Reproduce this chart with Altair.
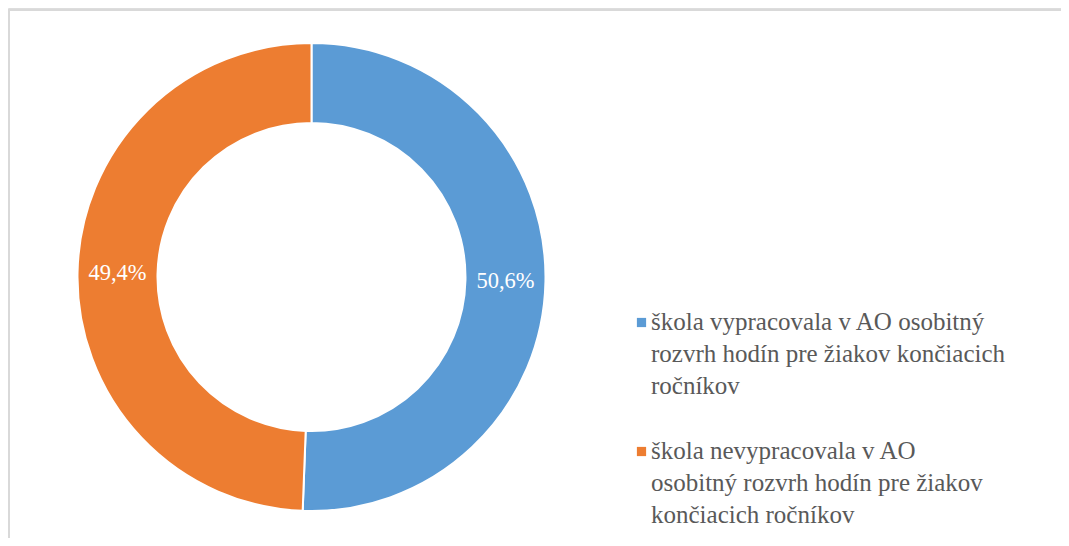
import altair as alt
import pandas as pd
import json

categories = [
    "škola vypracovala v AO osobitný rozvrh hodín pre žiakov končiacich ročníkov",
    "škola nevypracovala v AO osobitný rozvrh hodín pre žiakov končiacich ročníkov",
]
legend_lines = [
    ["škola vypracovala v AO osobitný", "rozvrh hodín pre žiakov končiacich", "ročníkov"],
    ["škola nevypracovala v AO", "osobitný rozvrh hodín pre žiakov", "končiacich ročníkov"],
]
values = [50.6, 49.4]
labels = ["50,6%", "49,4%"]
colors = ["#5B9BD5", "#ED7D31"]

df = pd.DataFrame({"cat": categories, "value": values, "label": labels, "order": [0, 1]})

label_expr = " : ".join(
    f"datum.value == {json.dumps(c, ensure_ascii=False)} ? {json.dumps(l, ensure_ascii=False)}"
    for c, l in zip(categories[:-1], legend_lines[:-1])
) + " : " + json.dumps(legend_lines[-1], ensure_ascii=False)

FONT = "Liberation Serif, Times New Roman, DejaVu Serif, serif"
CX, CY = 303.5, 269

base = alt.Chart(df).encode(
    theta=alt.Theta("value:Q", stack=True),
    order=alt.Order("order:Q"),
    x=alt.value(CX),
    y=alt.value(CY),
)

arcs = base.mark_arc(stroke="white", strokeWidth=2).encode(
    color=alt.Color(
        "cat:N",
        scale=alt.Scale(domain=categories, range=colors),
        legend=alt.Legend(
            title=None,
            orient="none",
            legendX=621,
            legendY=302,
            symbolType="square",
            symbolSize=85,
            symbolStrokeWidth=0,
            labelFont=FONT,
            labelFontSize=25,
            labelColor="#595959",
            labelLimit=600,
            labelBaseline="top",
            labelOffset=0,
            labelExpr=label_expr,
            rowPadding=39,
            padding=0,
        ),
    ),
    radius=alt.value(234),
    radius2=alt.value(154),
)

text = base.mark_text(font=FONT, fontSize=22.5, color="white").encode(
    text="label:N",
    radius=alt.value(194),
)

frame = alt.Chart(df).mark_rect(fill=None, stroke="#d9d9d9", strokeWidth=2).encode(
    x=alt.value(1), x2=alt.value(1070), y=alt.value(2), y2=alt.value(600)
)

chart = alt.layer(frame, arcs, text).properties(
    width=1053, height=530, padding=0, autosize=alt.AutoSizeParams(type="none")
).configure_view(stroke=None).configure(
    style={"guide-label": {"lineHeight": 32, "dy": -13, "dx": -3}}
)

chart.save("out.html", embed_options={"renderer": "svg", "actions": False})
